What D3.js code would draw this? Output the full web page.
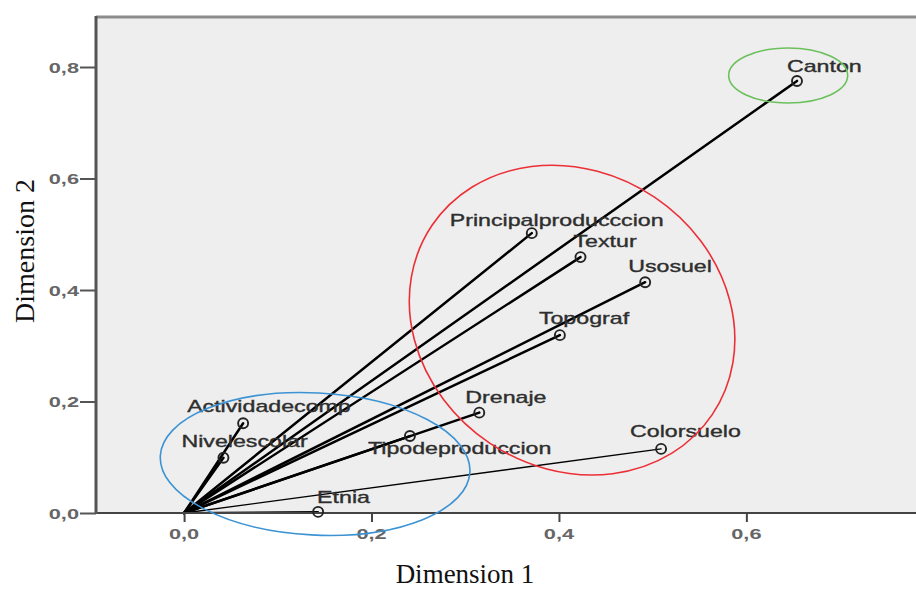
<!DOCTYPE html>
<html><head><meta charset="utf-8">
<script src="https://cdn.jsdelivr.net/npm/d3@7"></script>
<style>body{margin:0;background:#fff}svg{display:block}</style>
</head><body><svg id="chart" width="916" height="590"></svg>
<script>
// ---- data ----
const variables = ["Canton","Principalproducccion","Textur","Usosuel","Topograf","Drenaje","Tipodeproduccion","Colorsuelo","Actividadecomp","Nivelescolar","Etnia"];
const dim1 = [0.654,0.371,0.423,0.492,0.401,0.315,0.241,0.509,0.063,0.042,0.143];
const dim2 = [0.775,0.502,0.459,0.414,0.319,0.180,0.138,0.115,0.161,0.099,0.002];
const xTicks = [0.0,0.2,0.4,0.6];
const yTicks = [0.0,0.2,0.4,0.6,0.8];
const groups = ["green","red","blue"];
const groupCx = [0.6446,0.414,0.1398];
const groupCy = [0.7848,0.346,0.0879];
const groupRx = [0.0635,0.1804,0.1654];
const groupRy = [0.0493,0.2655,0.1274];

// ---- styling / layout ----
const W=916,H=590;
const plot={left:96,top:17,right:916,bottom:513};
const x=d3.scaleLinear().domain([-0.094,0.781]).range([plot.left,plot.right]);
const y=d3.scaleLinear().domain([0,0.8897]).range([plot.bottom,plot.top]);
const labelOffset={
 "Canton":[-10,-9],"Principalproducccion":[-82,-7],"Textur":[-7,-10],"Usosuel":[-17,-10],
 "Topograf":[-21,-11],"Drenaje":[-14,-10],"Tipodeproduccion":[-42,18],"Colorsuelo":[-31,-12],
 "Actividadecomp":[-56,-11],"Nivelescolar":[-42,-11],"Etnia":[-1,-9]};
const lineWidth={"Colorsuelo":1.4,"Etnia":1.8};
const groupColor={green:"#6cc05c",red:"#ec2f36",blue:"#3c93d3"};
const groupAngle={green:0,red:34,blue:3};

const svg=d3.select("#chart");
svg.append("rect").attr("x",plot.left).attr("y",plot.top).attr("width",plot.right-plot.left).attr("height",plot.bottom-plot.top).attr("fill","#eeeeee");
svg.append("line").attr("x1",plot.left).attr("x2",plot.right).attr("y1",plot.top).attr("y2",plot.top).attr("stroke","#8c8c8c").attr("stroke-width",3);

const pts=variables.map((v,i)=>({name:v,x:dim1[i],y:dim2[i]}));

// vectors
svg.append("g").selectAll("line").data(pts).join("line")
 .attr("x1",x(0)).attr("y1",y(0)).attr("x2",d=>x(d.x)).attr("y2",d=>y(d.y))
 .attr("stroke","#000").attr("stroke-width",d=>lineWidth[d.name]||2.5).attr("stroke-linecap","round");

// axes
const yAxis=d3.axisLeft(y).tickValues(yTicks).tickSize(16).tickFormat(()=> "");
const gy=svg.append("g").attr("transform",`translate(${plot.left},0)`).call(yAxis);
gy.select(".domain").remove();
gy.selectAll(".tick line").attr("stroke","#555").attr("stroke-width",2);
const xAxis=d3.axisBottom(x).tickValues(xTicks).tickSize(9).tickFormat(()=> "");
const gx=svg.append("g").attr("transform",`translate(0,${plot.bottom})`).call(xAxis);
gx.select(".domain").remove();
gx.selectAll(".tick line").attr("stroke","#444").attr("stroke-width",2);
svg.append("line").attr("x1",plot.left).attr("x2",plot.right).attr("y1",plot.bottom).attr("y2",plot.bottom).attr("stroke","#444").attr("stroke-width",2.2);
svg.append("line").attr("x1",plot.left).attr("x2",plot.left).attr("y1",plot.top-1).attr("y2",plot.bottom+1).attr("stroke","#555").attr("stroke-width",3);

const fmt=v=>d3.format(".1f")(v).replace(".",",");
svg.append("g").selectAll("text").data(yTicks).join("text")
 .attr("transform",d=>`translate(79,${y(d)+5.5}) scale(1.45,1)`)
 .attr("text-anchor","end").attr("font-family","Liberation Sans, Arial, sans-serif")
 .attr("font-weight","bold").attr("font-size",15).attr("fill","#666").text(fmt);
svg.append("g").selectAll("text").data(xTicks).join("text")
 .attr("transform",d=>`translate(${x(d)},539) scale(1.45,1)`)
 .attr("text-anchor","middle").attr("font-family","Liberation Sans, Arial, sans-serif")
 .attr("font-weight","bold").attr("font-size",15).attr("fill","#666").text(fmt);

// markers
svg.append("g").selectAll("circle").data(pts).join("circle")
 .attr("cx",d=>x(d.x)).attr("cy",d=>y(d.y)).attr("r",5)
 .attr("fill","none").attr("stroke","#222").attr("stroke-width",1.9);

// labels
svg.append("g").selectAll("text").data(pts).join("text")
 .attr("transform",d=>`translate(${x(d.x)+labelOffset[d.name][0]},${y(d.y)+labelOffset[d.name][1]}) scale(1.45,1)`)
 .attr("font-family","Liberation Sans, Arial, sans-serif").attr("font-size",16)
 .attr("fill","#2e2e2e").attr("stroke","#2e2e2e").attr("stroke-width",0.35).text(d=>d.name);

// group ellipses
const ells=groups.map((g,i)=>({g,cx:groupCx[i],cy:groupCy[i],rx:groupRx[i],ry:groupRy[i]}));
svg.append("g").selectAll("ellipse").data(ells).join("ellipse")
 .attr("transform",d=>`translate(${x(d.cx)},${y(d.cy)}) rotate(${groupAngle[d.g]})`)
 .attr("rx",d=>x(d.rx)-x(0)).attr("ry",d=>y(0)-y(d.ry))
 .attr("fill","none").attr("stroke",d=>groupColor[d.g]).attr("stroke-width",1.6);

// axis titles
svg.append("text").attr("x",465).attr("y",583).attr("text-anchor","middle")
 .attr("font-family","Liberation Serif, Times New Roman, serif").attr("font-size",27).attr("fill","#111").text("Dimension 1");
svg.append("text").attr("transform","translate(34,251) rotate(-90)").attr("text-anchor","middle")
 .attr("font-family","Liberation Serif, Times New Roman, serif").attr("font-size",28).attr("fill","#111").text("Dimension 2");
</script></body></html>
